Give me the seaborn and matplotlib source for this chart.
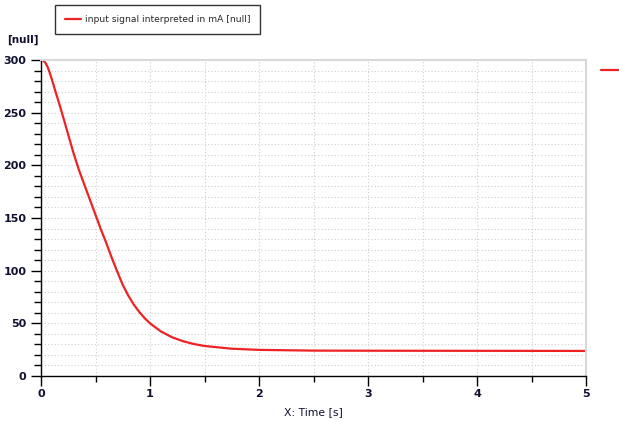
import numpy as np
import pandas as pd
import matplotlib
matplotlib.use("Agg")
import matplotlib.pyplot as plt
import seaborn as sns
from matplotlib.ticker import MultipleLocator
from matplotlib.lines import Line2D

time_s = [0.0, 0.02, 0.04, 0.06, 0.08, 0.10, 0.13, 0.16, 0.20, 0.25, 0.30, 0.35,
          0.40, 0.45, 0.50, 0.55, 0.60, 0.65, 0.70, 0.75, 0.80, 0.85, 0.90, 0.95,
          1.00, 1.10, 1.20, 1.30, 1.40, 1.50, 1.75, 2.00, 2.50, 3.00, 4.00, 5.00]
signal_mA = [300, 299.5, 297.5, 293.5, 288, 281.5, 271, 261, 247, 229, 211, 195,
             181, 167, 153, 139, 126, 112, 99, 86.5, 76.5, 68, 61, 55,
             50, 42.3, 36.9, 33.1, 30.4, 28.5, 25.9, 24.8, 24.1, 24.0, 23.9, 23.8]
series_label = "input signal interpreted in mA [null]"
x_label = "X: Time [s]"
y_label = "[null]"

df = pd.DataFrame({"t": time_s, "v": signal_mA})

sns.set_theme(style="white")
plt.rcParams['font.family'] = ['DejaVu Sans']

fig = plt.figure(figsize=(6.19, 4.21), dpi=100)
ax = fig.add_axes([41/619, 1-376/421, (586-41)/619, (376-60)/421])

sns.lineplot(data=df, x="t", y="v", ax=ax, color="#ee2222", linewidth=1.6, legend=False)

ax.set_xlim(0, 5)
ax.set_ylim(0, 300)
ax.xaxis.set_major_locator(MultipleLocator(1))
ax.xaxis.set_minor_locator(MultipleLocator(0.5))
ax.yaxis.set_major_locator(MultipleLocator(50))
ax.yaxis.set_minor_locator(MultipleLocator(10))
ax.grid(True, which="both", color="#cfcfcf", linestyle=(0, (1, 2)), linewidth=0.8)

for s in ["left", "bottom"]:
    ax.spines[s].set_color("black")
    ax.spines[s].set_linewidth(1.0)
for s in ["top", "right"]:
    ax.spines[s].set_color("#d8d8d8")
    ax.spines[s].set_linewidth(1.5)

ax.tick_params(axis="both", which="major", direction="out", length=7, width=1,
               color="black", labelsize=8, labelcolor="#101030", pad=3.5)
ax.tick_params(axis="y", which="minor", direction="out", length=5, width=1, color="black")
ax.tick_params(axis="x", which="minor", direction="out", length=4, width=1, color="black")
ax.tick_params(axis="x", which="major", length=7, pad=2.5)
ax.tick_params(left=True, bottom=True, which="both")
for lab in ax.get_xticklabels() + ax.get_yticklabels():
    lab.set_fontweight("bold")

ax.set_xlabel(x_label, fontsize=7.8, color="#101030", labelpad=6)
ax.set_ylabel("")
fig.text(7/619, 1-40/421, y_label, fontsize=7.5, fontweight="bold", color="#101030",
         ha="left", va="center")

handle = Line2D([], [], color="#ee2222", linewidth=1.6)
leg = fig.legend([handle], [series_label], loc="upper left",
                 bbox_to_anchor=(55/619, 1-5/421), frameon=True, fancybox=False,
                 fontsize=6.6, handlelength=1.7, handletextpad=0.45,
                 borderpad=1.1, borderaxespad=0)
leg.get_frame().set_edgecolor("black")
leg.get_frame().set_linewidth(1.0)

fig.lines.append(Line2D([601/619, 619/619], [1-70/421, 1-70/421], transform=fig.transFigure,
                        color="#ee2222", linewidth=1.6))

fig.savefig("out.png", dpi=100)
